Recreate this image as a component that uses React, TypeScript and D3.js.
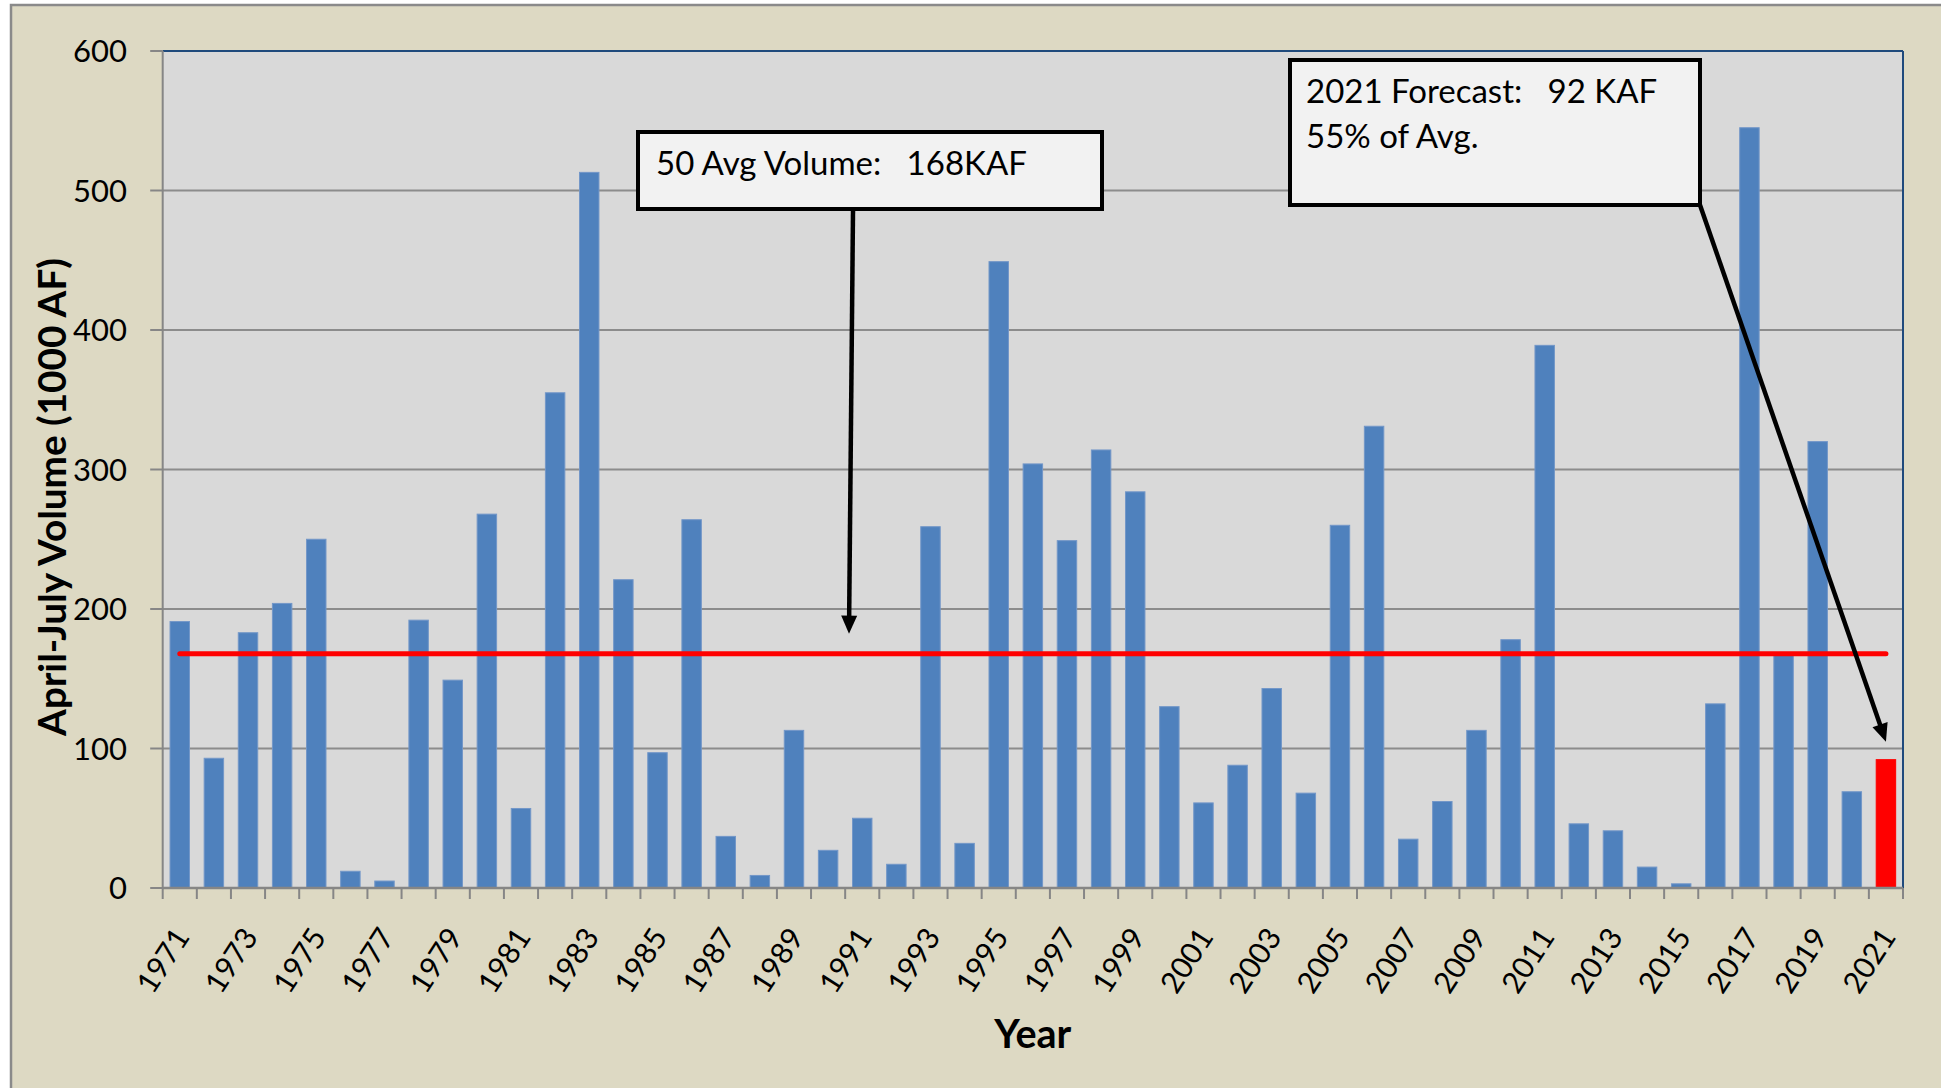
import React from "react";
import * as d3 from "d3";

const years: number[] = [
  1971, 1972, 1973, 1974, 1975, 1976, 1977, 1978, 1979, 1980,
  1981, 1982, 1983, 1984, 1985, 1986, 1987, 1988, 1989, 1990,
  1991, 1992, 1993, 1994, 1995, 1996, 1997, 1998, 1999, 2000,
  2001, 2002, 2003, 2004, 2005, 2006, 2007, 2008, 2009, 2010,
  2011, 2012, 2013, 2014, 2015, 2016, 2017, 2018, 2019, 2020,
  2021,
];
const volumes: number[] = [
  191, 93, 183, 204, 250, 12, 5, 192, 149, 268,
  57, 355, 513, 221, 97, 264, 37, 9, 113, 27,
  50, 17, 259, 32, 449, 304, 249, 314, 284, 130,
  61, 88, 143, 68, 260, 331, 35, 62, 113, 178,
  389, 46, 41, 15, 3, 132, 545, 168, 320, 69,
  92,
];
const forecastYear = 2021;
const avgVolume = 168;
const yTicks: number[] = [0, 100, 200, 300, 400, 500, 600];
const labelYears: number[] = years.filter((_, i) => i % 2 === 0);
const avgText = "50 Avg Volume:   168KAF";
const forecastLines: string[] = ["2021 Forecast:   92 KAF", "55% of Avg."];
const yTitle = "April-July Volume (1000 AF)";
const xTitle = "Year";

const W = 1941;
const H = 1088;
const PL = 162.7;
const PR = 1903;
const PT = 51;
const PB = 888;
const FONT = "Lato, 'Open Sans', sans-serif";

function Arrow({ x1, y1, x2, y2 }: { x1: number; y1: number; x2: number; y2: number }) {
  const dx = x2 - x1;
  const dy = y2 - y1;
  const len = Math.hypot(dx, dy);
  const ux = dx / len;
  const uy = dy / len;
  const hl = 18;
  const hw = 8;
  const bx = x2 - ux * hl;
  const by = y2 - uy * hl;
  const px = -uy;
  const py = ux;
  return (
    <g>
      <line x1={x1} y1={y1} x2={bx + ux * 2} y2={by + uy * 2} stroke="#000" strokeWidth={4.5} />
      <polygon
        points={`${x2},${y2} ${bx + px * hw},${by + py * hw} ${bx - px * hw},${by - py * hw}`}
        fill="#000"
      />
    </g>
  );
}

export default function App() {
  const x = d3
    .scaleBand<number>()
    .domain(years)
    .range([PL, PR])
    .paddingInner(0.43)
    .paddingOuter(0.215);
  const y = d3.scaleLinear().domain([0, 600]).range([PB, PT]);
  const step = x.step();
  const bw = x.bandwidth();
  const gap = (step - bw) / 2;
  const boundaries = years
    .map((yr) => (x(yr) as number) - gap)
    .concat([(x(years[years.length - 1]) as number) + bw + gap]);
  const cx = (yr: number) => (x(yr) as number) + bw / 2;

  const avgLine = d3
    .line<number>()
    .x((yr) => cx(yr))
    .y(() => y(avgVolume));

  const forecastIdx = years.indexOf(forecastYear);

  return (
    <svg
      width={W}
      height={H}
      style={{ position: "absolute", left: 0, top: 0, display: "block" }}
      fontFamily={FONT}
    >
      <rect x={0} y={0} width={W} height={H} fill="#ffffff" />
      <rect x={11} y={5} width={W + 20} height={H + 20} fill="#DDD9C3" stroke="#8a8a8a" strokeWidth={2.5} />

      {/* plot area */}
      <rect x={PL} y={PT} width={PR - PL} height={PB - PT} fill="#D9D9D9" />

      {/* gridlines */}
      {yTicks
        .filter((t) => t > 0 && t < 600)
        .map((t) => (
          <line key={"g" + t} x1={PL} x2={PR} y1={y(t)} y2={y(t)} stroke="#8C8C8C" strokeWidth={2} />
        ))}

      {/* top and right border */}
      <line x1={PL} x2={PR} y1={PT} y2={PT} stroke="#1F4A7C" strokeWidth={2} />
      <line x1={PR} x2={PR} y1={PT} y2={PB} stroke="#1F4A7C" strokeWidth={2} />

      {/* bars */}
      {years.map((yr, i) => (
        <rect
          key={yr}
          x={x(yr) as number}
          y={y(volumes[i])}
          width={bw}
          height={PB - y(volumes[i])}
          fill={yr === forecastYear ? "#FF0000" : "#4F81BD"}
          stroke={yr === forecastYear ? "#FF0000" : "#7397C8"}
          strokeWidth={1}
        />
      ))}

      {/* y axis */}
      <line x1={PL} x2={PL} y1={PT} y2={PB} stroke="#868686" strokeWidth={2} />
      {yTicks.map((t) => (
        <g key={"yt" + t}>
          <line x1={PL - 12.5} x2={PL} y1={y(t)} y2={y(t)} stroke="#868686" strokeWidth={2} />
          <text x={127} y={y(t)} dy="0.36em" textAnchor="end" fontSize={31} fill="#000">
            {t}
          </text>
        </g>
      ))}

      {/* x axis */}
      <line x1={PL} x2={PR} y1={PB} y2={PB} stroke="#868686" strokeWidth={2.5} />
      {boundaries.map((bx, i) => (
        <line key={"xt" + i} x1={bx} x2={bx} y1={PB} y2={PB + 11} stroke="#868686" strokeWidth={2} />
      ))}
      {labelYears.map((yr) => (
        <text
          key={"xl" + yr}
          transform={`translate(${cx(yr) + 11},${937}) rotate(-57)`}
          textAnchor="end"
          fontSize={30}
          fill="#000"
        >
          {yr}
        </text>
      ))}

      {/* average line */}
      <path d={avgLine(years) as string} fill="none" stroke="#FF0000" strokeWidth={5} strokeLinecap="round" />

      {/* titles */}
      <text x={(PL + PR) / 2} y={1048} textAnchor="middle" fontSize={39.5} fontWeight="bold" fill="#000">
        {xTitle}
      </text>
      <text
        transform={`translate(52,${497}) rotate(-90)`}
        textAnchor="middle"
        dy="0.35em"
        fontSize={38.7}
        fontWeight="bold"
        fill="#000"
      >
        {yTitle}
      </text>

      {/* annotation: average */}
      <rect x={638} y={132} width={464} height={77} fill="#F2F2F2" stroke="#000" strokeWidth={4} />
      <text x={656} y={175} fontSize={33} fill="#000" style={{ whiteSpace: "pre" }}>
        {avgText}
      </text>
      <Arrow x1={853} y1={211} x2={849} y2={y(avgVolume) - 20} />

      {/* annotation: forecast */}
      <rect x={1290} y={60} width={410} height={145} fill="#F2F2F2" stroke="#000" strokeWidth={4} />
      {forecastLines.map((ln, i) => (
        <text key={"fl" + i} x={1306} y={103 + i * 45} fontSize={33} fill="#000" style={{ whiteSpace: "pre" }}>
          {ln}
        </text>
      ))}
      <Arrow x1={1700} y1={205} x2={cx(years[forecastIdx])} y2={y(volumes[forecastIdx]) - 18} />
    </svg>
  );
}
